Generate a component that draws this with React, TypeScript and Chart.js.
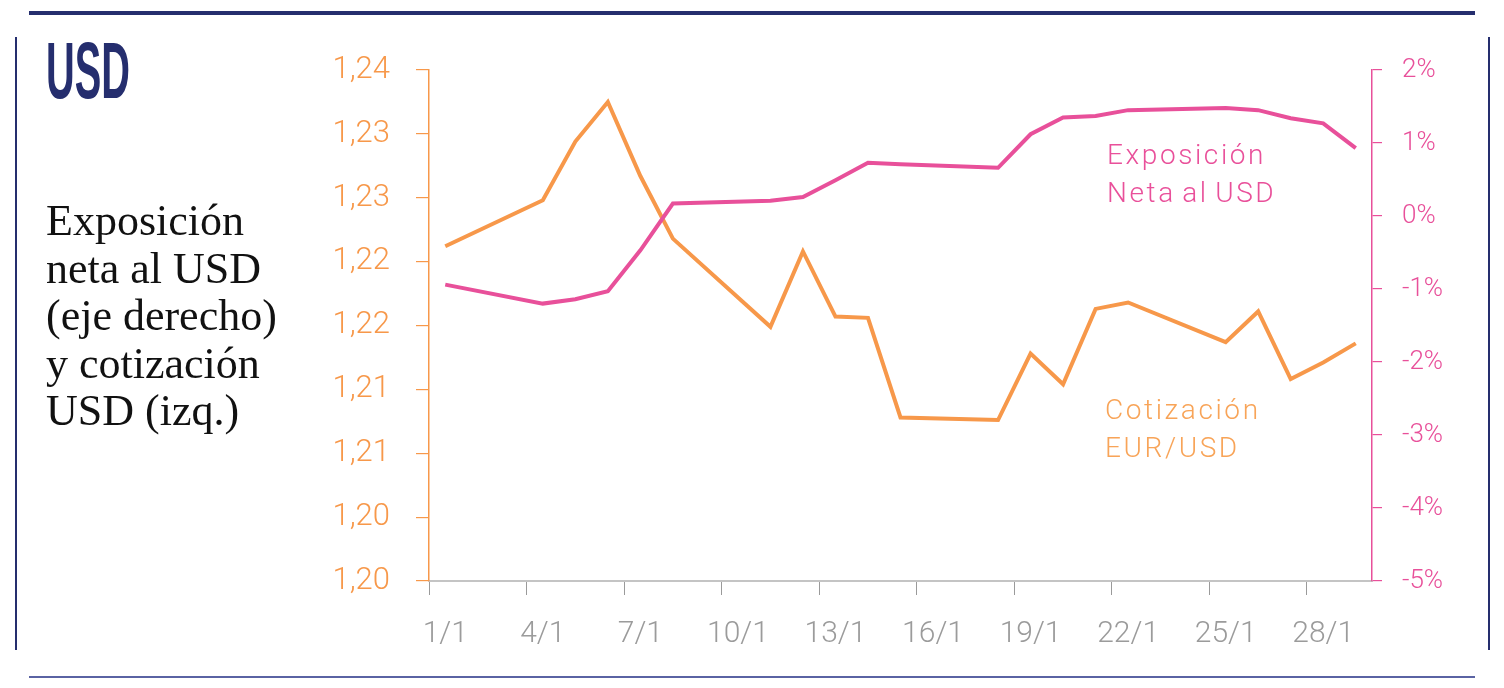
import React, { useEffect, useRef } from "react";
import { Chart, registerables } from "chart.js";

Chart.register(...registerables);

// Days of January (category axis)
const categories: string[] = [
  "1/1", "2/1", "3/1", "4/1", "5/1", "6/1", "7/1", "8/1", "9/1", "10/1",
  "11/1", "12/1", "13/1", "14/1", "15/1", "16/1", "17/1", "18/1", "19/1", "20/1",
  "21/1", "22/1", "23/1", "24/1", "25/1", "26/1", "27/1", "28/1", "29/1",
];

// Exposición neta al USD (% , right axis). null = market closed
const exposicion: (number | null)[] = [
  -0.94, null, null, -1.2, -1.14, -1.03, -0.47, 0.17, null, null,
  0.21, 0.26, 0.49, 0.73, 0.71, null, null, 0.66, 1.12, 1.35,
  1.37, 1.45, null, null, 1.48, 1.45, 1.34, 1.27, 0.93,
];

// Cotización EUR/USD (left axis)
const cotizacion: (number | null)[] = [
  1.2262, null, null, 1.2298, 1.2344, 1.2375, 1.2317, 1.2268, null, null,
  1.2199, 1.2258, 1.2207, 1.2206, 1.2128, null, null, 1.2126, 1.2178, 1.2154,
  1.2213, 1.2218, null, null, 1.2187, 1.2211, 1.2158, 1.2171, 1.2186,
];

// Left axis tick labels as printed (bottom to top)
const leftTickLabels: string[] = ["1,20", "1,20", "1,21", "1,21", "1,22", "1,22", "1,23", "1,23", "1,24"];

const ORANGE = "#F7984A";
const PINK = "#E8509A";
const NAVY = "#252E6E";
const SANS = "Roboto, 'Liberation Sans', sans-serif";

export default function App() {
  const canvasRef = useRef<HTMLCanvasElement | null>(null);
  const usdRef = useRef<HTMLSpanElement | null>(null);

  useEffect(() => {
    if (usdRef.current) {
      const w = usdRef.current.offsetWidth;
      if (w > 0) usdRef.current.style.transform = `scaleX(${84 / w})`;
    }
    const canvas = canvasRef.current;
    if (!canvas) return;
    const chart = new Chart(canvas, {
      type: "line",
      data: {
        labels: categories,
        datasets: [
          {
            label: "Exposición Neta al USD",
            data: exposicion,
            yAxisID: "yR",
            borderColor: PINK,
            backgroundColor: PINK,
            borderWidth: 4,
            pointRadius: 0,
            spanGaps: true,
            tension: 0,
            borderJoinStyle: "miter",
          },
          {
            label: "Cotización EUR/USD",
            data: cotizacion,
            yAxisID: "yL",
            borderColor: ORANGE,
            backgroundColor: ORANGE,
            borderWidth: 4,
            pointRadius: 0,
            spanGaps: true,
            tension: 0,
            borderJoinStyle: "miter",
          },
        ],
      },
      options: {
        responsive: false,
        animation: false,
        devicePixelRatio: 1,
        layout: { padding: { left: 0, right: 0, top: 70, bottom: 0 } },
        plugins: { legend: { display: false }, tooltip: { enabled: false } },
        scales: {
          x: {
            type: "category",
            offset: true,
            afterFit: (s: any) => {
              s.height = 107;
            },
            grid: {
              offset: true,
              drawOnChartArea: false,
              drawTicks: true,
              tickLength: 14,
              tickColor: (ctx: any) => (ctx.index % 3 === 0 ? "#9a9a9a" : "rgba(0,0,0,0)"),
              lineWidth: 1,
            },
            border: { display: true, color: "#c4c4c4", width: 2 },
            ticks: {
              autoSkip: false,
              maxRotation: 0,
              minRotation: 0,
              padding: 21,
              color: "#9b9b9b",
              font: { family: SANS, size: 30, weight: "300" as any },
              callback: (_v: any, i: number) => (i % 3 === 0 ? categories[i] : ""),
            },
          },
          yL: {
            type: "linear",
            position: "left",
            min: 1.2,
            max: 1.24,
            afterFit: (s: any) => {
              s.width = 429;
            },
            grid: {
              drawOnChartArea: false,
              drawTicks: true,
              tickLength: 13,
              tickColor: ORANGE,
              lineWidth: 1.2,
            },
            border: { display: true, color: ORANGE, width: 1.5 },
            ticks: {
              stepSize: 0.005,
              padding: 26,
              color: ORANGE,
              font: { family: SANS, size: 31, weight: "300" as any },
              callback: (_v: any, i: number) => leftTickLabels[i],
            },
          },
          yR: {
            type: "linear",
            position: "right",
            min: -5,
            max: 2,
            afterFit: (s: any) => {
              s.width = 132;
            },
            grid: {
              drawOnChartArea: false,
              drawTicks: true,
              tickLength: 10,
              tickColor: PINK,
              lineWidth: 1.2,
            },
            border: { display: true, color: PINK, width: 1.5 },
            ticks: {
              stepSize: 1,
              padding: 20,
              color: PINK,
              font: { family: SANS, size: 26, weight: "300" as any },
              callback: (v: any) => `${v}%`,
            },
          },
        },
      },
    });
    return () => chart.destroy();
  }, []);

  const abs = (o: React.CSSProperties): React.CSSProperties => ({ position: "absolute", ...o });

  return (
    <div style={abs({ left: 0, top: 0, width: 1504, height: 688, background: "#fff", overflow: "hidden" })}>
      <canvas ref={canvasRef} width={1504} height={688} style={abs({ left: 0, top: 0, display: "block" })} />
      <div style={abs({ left: 29, top: 11, width: 1446, height: 4, background: NAVY })} />
      <div style={abs({ left: 15, top: 37, width: 2, height: 613, background: NAVY })} />
      <div style={abs({ left: 1488, top: 37, width: 2, height: 613, background: NAVY })} />
      <div style={abs({ left: 29, top: 676, width: 1446, height: 2, background: "#5A63A3" })} />
      <span
        ref={usdRef}
        style={abs({
          left: 46,
          top: 31,
          fontFamily: "'Liberation Sans Narrow', 'Liberation Sans', sans-serif",
          fontWeight: 700,
          fontSize: 80,
          lineHeight: "80px",
          color: NAVY,
          transformOrigin: "0 0",
          whiteSpace: "nowrap",
          display: "inline-block",
        })}
      >
        USD
      </span>
      <div
        style={abs({
          left: 46,
          top: 197,
          fontFamily: "'Liberation Serif', serif",
          fontSize: 44,
          lineHeight: "47.5px",
          color: "#111",
          whiteSpace: "nowrap",
        })}
      >
        Exposición
        <br />
        neta al USD
        <br />
        (eje derecho)
        <br />
        y cotización
        <br />
        USD (izq.)
      </div>
      <div
        style={abs({
          left: 1107,
          top: 136,
          fontFamily: SANS,
          fontWeight: 300,
          fontSize: 28,
          lineHeight: "38px",
          color: "#E9509A",
          letterSpacing: 2.6,
          wordSpacing: -3,
          whiteSpace: "nowrap",
        })}
      >
        Exposición
        <br />
        Neta al USD
      </div>
      <div
        style={abs({
          left: 1105,
          top: 391,
          fontFamily: SANS,
          fontWeight: 300,
          fontSize: 28,
          lineHeight: "38px",
          color: "#F8A458",
          letterSpacing: 2.6,
          whiteSpace: "nowrap",
        })}
      >
        Cotización
        <br />
        EUR/USD
      </div>
    </div>
  );
}
